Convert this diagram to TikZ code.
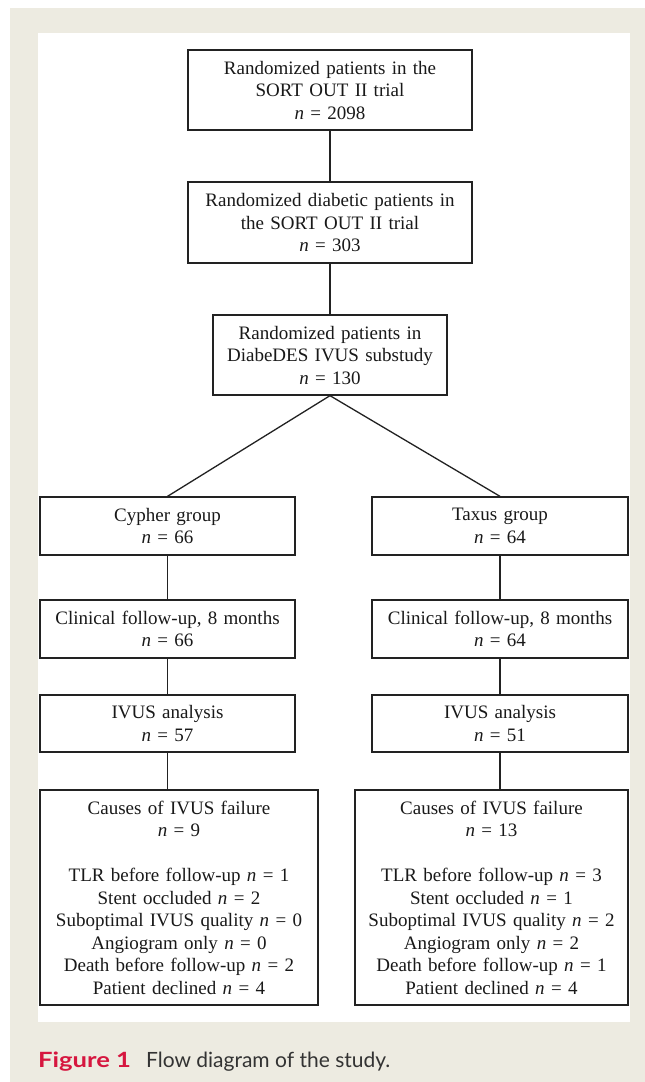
\documentclass[tikz,border=0pt]{standalone}
\usepackage{fontspec}
\setmainfont{Liberation Serif}
\newfontfamily\capfont{Lato}
\definecolor{bgbeige}{HTML}{EDEBE1}
\definecolor{figred}{HTML}{D6163F}
\definecolor{captext}{HTML}{333333}
\definecolor{linecol}{HTML}{222222}
\begin{document}
\begin{tikzpicture}[x=1pt,y=-1pt,
  box/.style={draw=linecol, line width=1.3pt, inner sep=0pt, align=center,
    font=\fontsize{19}{22.5}\selectfont, text=black!90},
  conn/.style={draw=linecol, line width=1.3pt}]
\useasboundingbox (0,0) rectangle (645,1082);
\fill[white] (0,0) rectangle (645,1082);
\fill[bgbeige] (10,8) rectangle (645,1082);
\fill[white] (38,33) rectangle (630,1022);

\node[box, text width=284pt, minimum height=80pt] (b1) at (330,90)
  {Randomized patients in the\\ SORT OUT II trial\\ \textit{n} = 2098};
\node[box, text width=284pt, minimum height=81pt] (b2) at (330,222.5)
  {Randomized diabetic patients in\\ the SORT OUT II trial\\ \textit{n} = 303};
\node[box, text width=234pt, minimum height=80pt] (b3) at (330,355)
  {Randomized patients in\\ DiabeDES IVUS substudy\\ \textit{n} = 130};

\node[box, text width=255pt, minimum height=58pt] (cy) at (167.5,526)
  {Cypher group\\ \textit{n} = 66};
\node[box, text width=256pt, minimum height=58pt] (tx) at (500,526)
  {Taxus group\\ \textit{n} = 64};
\node[box, text width=255pt, minimum height=58pt] (clL) at (167.5,629)
  {Clinical follow-up, 8 months\\ \textit{n} = 66};
\node[box, text width=256pt, minimum height=58pt] (clR) at (500,629)
  {Clinical follow-up, 8 months\\ \textit{n} = 64};
\node[box, text width=255pt, minimum height=57pt] (ivL) at (167.5,723.5)
  {IVUS analysis\\ \textit{n} = 57};
\node[box, text width=256pt, minimum height=57pt] (ivR) at (500,723.5)
  {IVUS analysis\\ \textit{n} = 51};
\node[box, text width=278pt, minimum height=215pt] (caL) at (179,897.5)
  {Causes of IVUS failure\\ \textit{n} = 9\\[22.5pt]
   TLR before follow-up \textit{n} = 1\\ Stent occluded \textit{n} = 2\\
   Suboptimal IVUS quality \textit{n} = 0\\ Angiogram only \textit{n} = 0\\
   Death before follow-up \textit{n} = 2\\ Patient declined \textit{n} = 4};
\node[box, text width=273pt, minimum height=215pt] (caR) at (491.5,897.5)
  {Causes of IVUS failure\\ \textit{n} = 13\\[22.5pt]
   TLR before follow-up \textit{n} = 3\\ Stent occluded \textit{n} = 1\\
   Suboptimal IVUS quality \textit{n} = 2\\ Angiogram only \textit{n} = 2\\
   Death before follow-up \textit{n} = 1\\ Patient declined \textit{n} = 4};

\draw[conn] (b1.south) -- (b2.north);
\draw[conn] (b2.south) -- (b3.north);
\draw[conn] (b3.south) -- (cy.north);
\draw[conn] (b3.south) -- (tx.north);
\draw[conn] (cy.south) -- (clL.north);
\draw[conn] (tx.south) -- (clR.north);
\draw[conn] (clL.south) -- (ivL.north);
\draw[conn] (clR.south) -- (ivR.north);
\draw[conn] (ivL.south) -- (ivL.south |- caL.north);
\draw[conn] (ivR.south) -- (ivR.south |- caR.north);

\node[anchor=base west, inner sep=0pt, font=\capfont\fontsize{21}{24}\selectfont, text=captext] (cap) at (38,1067)
  {{\color{figred}\bfseries\scalebox{1.22}[1]{Figure 1}}\hspace{15pt}Flow diagram of the study.};
\end{tikzpicture}
\end{document}
